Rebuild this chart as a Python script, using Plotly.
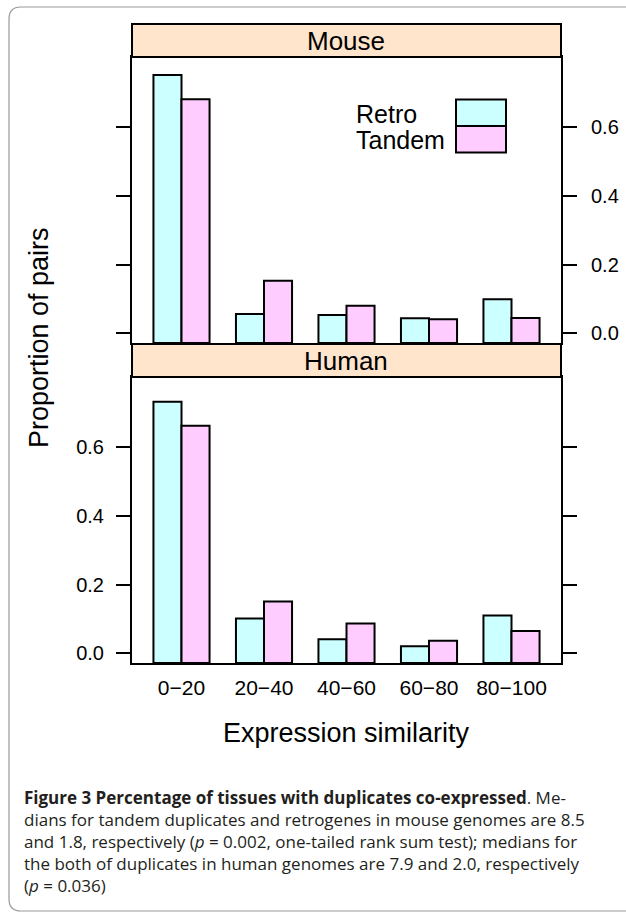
import plotly.graph_objects as go

W, H = 626, 912

categories = ["0\u221220", "20\u221240", "40\u221260", "60\u221280", "80\u2212100"]
mouse_retro = [0.751, 0.056, 0.053, 0.044, 0.099]
mouse_tandem = [0.680, 0.153, 0.080, 0.041, 0.045]
human_retro = [0.731, 0.101, 0.041, 0.021, 0.110]
human_tandem = [0.661, 0.151, 0.087, 0.037, 0.065]
y_ticks = [0.0, 0.2, 0.4, 0.6]
y_ticktext = ["0.0", "0.2", "0.4", "0.6"]
series_names = ["Retro", "Tandem"]
panel_names = ["Mouse", "Human"]

caption_lines = [
    "<b>Figure 3 Percentage of tissues with duplicates co-expressed</b>. Me-",
    "dians for tandem duplicates and retrogenes in mouse genomes are 8.5",
    "and 1.8, respectively (<i>p</i> = 0.002, one-tailed rank sum test); medians for",
    "the both of duplicates in human genomes are 7.9 and 2.0, respectively",
    "(<i>p</i> = 0.036)",
]

YMIN, YMAX = -0.028, 0.803
RETRO_COL = "#CCFFFF"
TANDEM_COL = "#FFCCFF"
STRIP_COL = "#FFE5CC"
FONT = "Liberation Sans, Arial, Helvetica, sans-serif"


def xp(px):
    return px / W


def yp(py):
    return 1 - py / H


fig = go.Figure()

panels = [
    ("x2", "y2", mouse_retro, mouse_tandem),
    ("x", "y", human_retro, human_tandem),
]
for xa, ya, retro, tandem in panels:
    for name, vals, col in ((series_names[0], retro, RETRO_COL), (series_names[1], tandem, TANDEM_COL)):
        fig.add_trace(go.Bar(
            x=categories,
            y=[v - YMIN for v in vals],
            base=YMIN,
            name=name,
            marker=dict(color=col, line=dict(color="black", width=2)),
            xaxis=xa, yaxis=ya, showlegend=False, hoverinfo="skip",
        ))

px_left, px_right = 132, 561
mouse_top, mouse_bot = 57, 343
human_top, human_bot = 377, 663

common_x = dict(
    type="category", range=[-0.6, 4.6], showline=True, mirror=True,
    linecolor="black", linewidth=2, ticks="", showgrid=False, zeroline=False,
    domain=[xp(px_left), xp(px_right)], automargin=False, fixedrange=True,
)
common_y = dict(
    range=[YMIN, YMAX], tickvals=y_ticks, ticktext=y_ticktext,
    showline=True, mirror="ticks", linecolor="black", linewidth=2,
    ticks="outside", ticklen=14, tickwidth=2, tickcolor="black",
    showgrid=False, zeroline=False, automargin=False, fixedrange=True,
    tickfont=dict(family=FONT, size=20, color="black"),
)

fig.update_layout(
    width=W, height=H,
    margin=dict(l=0, r=0, t=0, b=0),
    paper_bgcolor="white", plot_bgcolor="white",
    barmode="group", bargap=0.32, bargroupgap=0,
    showlegend=False,
    xaxis=dict(**common_x, anchor="y",
               tickfont=dict(family=FONT, size=21, color="black"),
               ticklabelstandoff=5),
    xaxis2=dict(**common_x, anchor="y2", showticklabels=False, matches="x"),
    yaxis=dict(**common_y, anchor="x", side="left", ticklabelstandoff=8,
               domain=[yp(human_bot), yp(human_top)]),
    yaxis2=dict(**common_y, anchor="x2", side="right", ticklabelstandoff=10,
                domain=[yp(mouse_bot), yp(mouse_top)]),
)

shapes = []
annotations = []

# strips
for name, top, bot in (("Mouse", 24, 57), ("Human", 344, 377)):
    shapes.append(dict(type="rect", xref="paper", yref="paper",
                       x0=xp(px_left), x1=xp(px_right), y0=yp(bot), y1=yp(top),
                       fillcolor=STRIP_COL, line=dict(color="black", width=2),
                       layer="above"))
    annotations.append(dict(text=name, xref="paper", yref="paper",
                            x=xp((px_left + px_right) / 2), y=yp((top + bot) / 2 + 1),
                            xanchor="center", yanchor="middle", showarrow=False,
                            font=dict(family=FONT, size=26, color="black")))

# legend (key) inside Mouse panel
key = [(series_names[0], RETRO_COL, 99.5, 126), (series_names[1], TANDEM_COL, 126, 152.5)]
for name, col, top, bot in key:
    shapes.append(dict(type="rect", xref="paper", yref="paper",
                       x0=xp(456), x1=xp(506), y0=yp(bot), y1=yp(top),
                       fillcolor=col, line=dict(color="black", width=2), layer="above"))
    annotations.append(dict(text=name, xref="paper", yref="paper",
                            x=xp(354), y=yp((top + bot) / 2 + 1),
                            xanchor="left", yanchor="middle", showarrow=False,
                            font=dict(family=FONT, size=25, color="black")))

# axis titles
annotations.append(dict(text="Proportion of pairs", xref="paper", yref="paper",
                        x=xp(39), y=yp(338), textangle=-90,
                        xanchor="center", yanchor="middle", showarrow=False,
                        font=dict(family=FONT, size=27, color="black")))
annotations.append(dict(text="Expression similarity", xref="paper", yref="paper",
                        x=xp(346.5), y=yp(733), xanchor="center", yanchor="middle",
                        showarrow=False, font=dict(family=FONT, size=27, color="black")))

# caption (one multi-line text block)
annotations.append(dict(text="<br>".join(caption_lines), xref="paper", yref="paper",
                        x=xp(22), y=yp(841), xanchor="left", yanchor="middle",
                        showarrow=False, align="left",
                        font=dict(family="Open Sans, Noto Sans, sans-serif", size=17,
                                  color="#231F20")))

# outer rounded frame
r = 12
x0, y0, x1, y1 = 9, 7, 640, 911
pts = (f"M {xp(x0)},{yp(y1 - r)} L {xp(x0)},{yp(y0 + r)} "
       f"Q {xp(x0)},{yp(y0)} {xp(x0 + r)},{yp(y0)} L {xp(x1)},{yp(y0)} "
       f"M {xp(x0)},{yp(y1 - r)} Q {xp(x0)},{yp(y1)} {xp(x0 + r)},{yp(y1)} L {xp(x1)},{yp(y1)}")
shapes.append(dict(type="path", xref="paper", yref="paper", path=pts,
                   line=dict(color="#999999", width=1.2)))

fig.update_layout(shapes=shapes, annotations=annotations)

fig.write_html(
    "out.html",
    config={"displayModeBar": False},
    post_script="document.body.style.margin='0';document.body.style.overflow='hidden';",
)
